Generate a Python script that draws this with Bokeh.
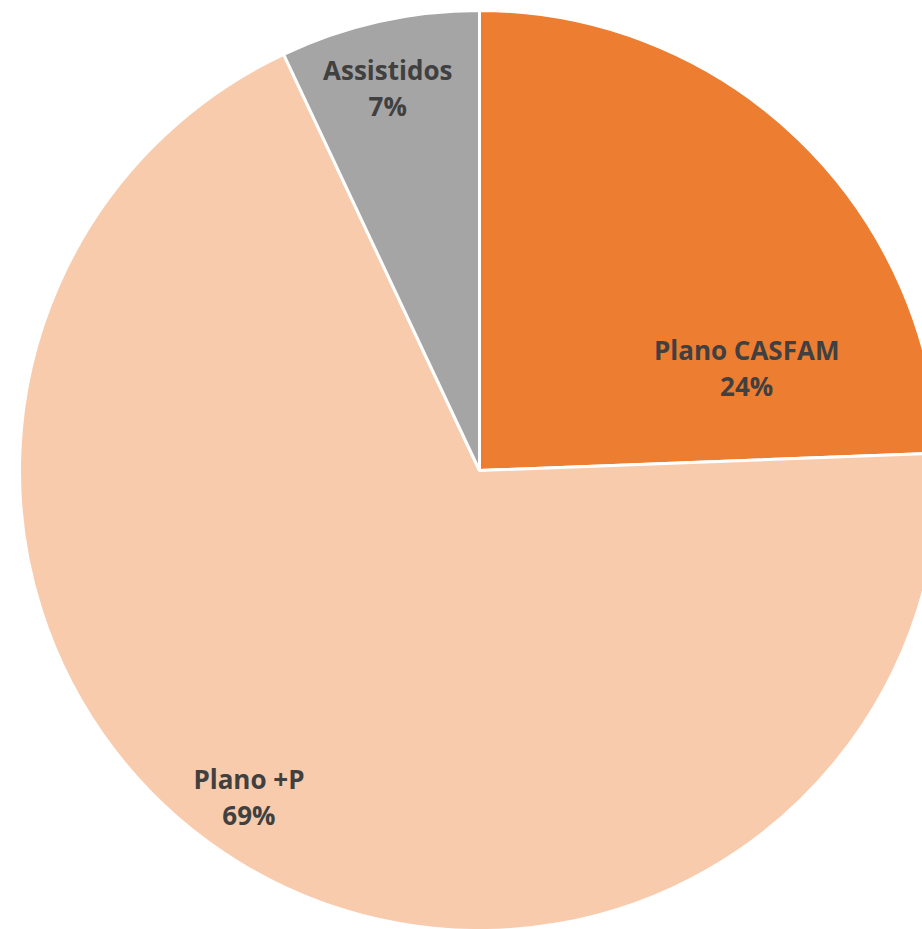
import math
from bokeh.plotting import figure
from bokeh.models import ColumnDataSource, Range1d
from bokeh.core.properties import value
from bokeh.embed import file_html
from bokeh.resources import INLINE

# Data
categories = ["Plano CASFAM", "Plano +P", "Assistidos"]
shares = [24.4, 68.6, 7.0]
colors = ["#ED7D31", "#F8CBAD", "#A5A5A5"]

# Layout (label placement: radius in px, angle in degrees)
label_radius = [286, 400, 393]
label_angle = [20.9, 234.8, 103.5]

W, H = 922, 929
cx, cy, R = 479, 459, 460

total = sum(shares)
starts, ends = [], []
cum = 0.0
for s in shares:
    a_end = math.radians(90 - cum / total * 360)
    cum += s
    a_start = math.radians(90 - cum / total * 360)
    starts.append(a_start)
    ends.append(a_end)

pct = [f"{round(s / total * 100)}%" for s in shares]
lx = [cx + r * math.cos(math.radians(a)) for r, a in zip(label_radius, label_angle)]
ly = [cy + r * math.sin(math.radians(a)) for r, a in zip(label_radius, label_angle)]

src = ColumnDataSource(dict(
    cat=categories, start=starts, end=ends, color=colors,
    x=[cx] * 3, y=[cy] * 3, lx=lx, ly1=[v + 18 for v in ly], ly2=[v - 18 for v in ly], pct=pct,
))

p = figure(width=W, height=H, output_backend="svg", toolbar_location=None,
           x_range=Range1d(0, W), y_range=Range1d(0, H), min_border=0)
p.axis.visible = False
p.grid.visible = False
p.outline_line_color = None
p.background_fill_color = "white"
p.border_fill_color = "white"

p.wedge(x="x", y="y", radius=R, start_angle="start", end_angle="end",
        fill_color="color", line_color="white", line_width=3, source=src)

p.text(x="lx", y="ly1", text="cat", source=src, text_font=value("Open Sans"),
       text_font_style="bold", text_font_size="26px", text_color="#404040",
       text_align="center", text_baseline="middle")
p.text(x="lx", y="ly2", text="pct", source=src, text_font=value("Open Sans"),
       text_font_style="bold", text_font_size="26px", text_color="#404040",
       text_align="center", text_baseline="middle")

open("out.html", "w").write(file_html(p, INLINE))
